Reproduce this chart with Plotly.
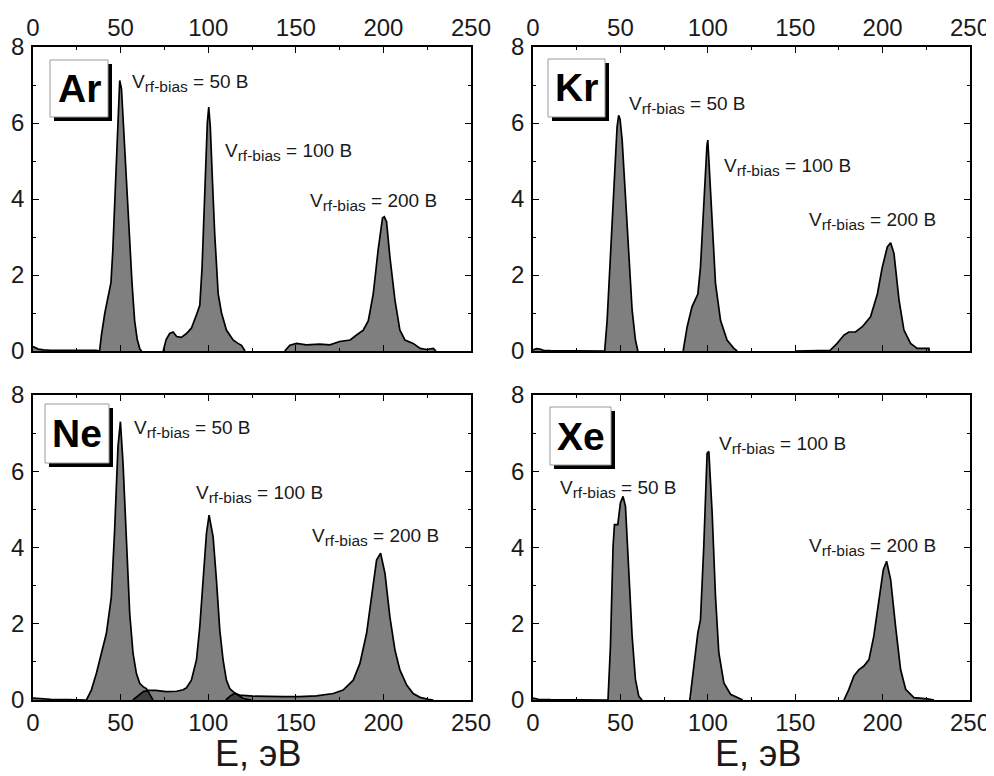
import plotly.graph_objects as go

# page body has an 8px margin; the figure is sized to fit the 994x776 window
OFF = 8
W, H = 994 - OFF, 776 - OFF

# ---------------- data (E in eV, intensity arb. units) ----------------
ar_e50 = [0, 1, 3, 6, 10, 20, 30, 36, 38, 39, 41, 43, 44.5, 45.5, 47, 48.5, 49.5, 50.5, 52, 53.5, 55, 56.5, 58, 59.5, 61, 62]
ar_v50 = [0.12, 0.1, 0.05, 0.03, 0.02, 0.02, 0.02, 0.02, 0.0, 0.4, 1.0, 1.5, 1.8, 2.6, 4.2, 6.0, 7.12, 6.9, 5.6, 4.3, 3.0, 1.8, 0.8, 0.3, 0.05, 0.0]
ar_e100 = [74.3, 76, 78, 80, 82, 84.7, 87.6, 90.4, 93.3, 95.2, 96.5, 98, 99.5, 100.3, 101.2, 102.5, 103.7, 105.7, 107.6, 110.4, 114.2, 117, 119, 121]
ar_v100 = [0.0, 0.3, 0.46, 0.5, 0.38, 0.36, 0.46, 0.6, 0.95, 1.2, 2.2, 4.2, 6.0, 6.42, 5.9, 4.4, 3.1, 1.5, 1.0, 0.55, 0.29, 0.2, 0.15, 0.0]
ar_e200 = [143.7, 146.6, 150.4, 156, 163.7, 169.5, 175, 181, 184.7, 188.5, 191.4, 194.2, 197, 199.5, 200.5, 201.8, 203.7, 206.6, 209.4, 212.3, 217, 221, 224.7, 228.5, 230]
ar_v200 = [0.0, 0.15, 0.2, 0.16, 0.18, 0.16, 0.25, 0.29, 0.42, 0.55, 0.8, 1.5, 2.66, 3.5, 3.53, 3.4, 2.48, 1.34, 0.55, 0.29, 0.2, 0.07, 0.04, 0.07, 0.0]

kr_e50 = [0, 2, 4, 6, 10, 30, 41, 42.4, 44.3, 46.2, 48.1, 49, 49.8, 51, 52.9, 54.8, 56.7, 58.6, 60]
kr_v50 = [0.03, 0.06, 0.05, 0.02, 0.01, 0.01, 0.0, 0.8, 2.4, 4.3, 5.9, 6.2, 6.1, 5.55, 3.97, 2.4, 1.08, 0.29, 0.0]
kr_e100 = [85.9, 88.2, 91, 94.3, 95.8, 97.7, 99.5, 100, 101.9, 104.4, 107.3, 111, 114.9, 116.8]
kr_v100 = [0.0, 0.64, 1.17, 1.5, 2.2, 3.97, 5.4, 5.55, 3.97, 1.78, 0.8, 0.29, 0.07, 0.0]
kr_e200 = [150, 160, 170, 174, 177.9, 180.7, 184.5, 188.4, 193.1, 197, 199.8, 202.7, 204.6, 206.5, 209.4, 212.2, 216, 219.8, 226.5, 226.6]
kr_v200 = [0.0, 0.01, 0.02, 0.2, 0.42, 0.5, 0.5, 0.64, 0.9, 1.5, 2.2, 2.74, 2.85, 2.57, 1.34, 0.55, 0.2, 0.07, 0.07, 0.0]

ne_e50 = [0, 5, 10, 20, 30.5, 33.3, 36.2, 39, 41.9, 44.7, 46.6, 48.5, 49.9, 51.4, 53.3, 55.2, 57.1, 59, 60.9, 62.8, 64.7, 66.5, 68.5]
ne_v50 = [0.05, 0.03, 0.02, 0.01, 0.0, 0.26, 0.7, 1.22, 1.75, 2.7, 4.46, 6.64, 7.3, 6.2, 4.0, 2.27, 1.22, 0.7, 0.44, 0.35, 0.3, 0.15, 0.0]
ne_e100 = [57, 60, 63, 66, 70, 76, 82, 85.7, 87.6, 90.4, 93.3, 95.2, 97.1, 99, 100.5, 102.8, 104.7, 106.6, 108.5, 110.4, 112.3, 114.2, 117, 120, 124.7]
ne_v100 = [0.0, 0.12, 0.22, 0.25, 0.25, 0.22, 0.23, 0.27, 0.32, 0.52, 1.05, 1.92, 3.15, 4.37, 4.85, 4.28, 3.15, 1.84, 1.05, 0.52, 0.3, 0.22, 0.13, 0.04, 0.0]
ne_e200 = [110, 113, 115.2, 118, 125.7, 133, 142.8, 152, 161.8, 171.4, 177, 182.8, 186.6, 190.4, 193.2, 196.1, 198.4, 200.9, 203.7, 206.6, 209.4, 213.3, 217, 220.9, 225.6, 228.5]
ne_v200 = [0.0, 0.12, 0.17, 0.13, 0.1, 0.09, 0.09, 0.09, 0.11, 0.17, 0.26, 0.52, 0.96, 1.75, 2.7, 3.67, 3.85, 3.32, 2.18, 1.31, 0.79, 0.39, 0.17, 0.07, 0.02, 0.0]

xe_e50 = [0, 3, 10, 42.9, 44.3, 45.8, 46.6, 48.5, 50, 51.5, 52.9, 54.8, 56.7, 58.6, 60.5, 62.4]
xe_v50 = [0.05, 0.02, 0.01, 0.0, 1.41, 4.03, 4.6, 4.6, 5.17, 5.34, 5.08, 3.5, 1.68, 0.54, 0.1, 0.0]
xe_e100 = [89.7, 92, 94.3, 95.8, 97.7, 99.6, 100.6, 102.5, 104.4, 106.3, 109.2, 113, 118.7, 120]
xe_v100 = [0.0, 0.89, 1.76, 2.1, 4.03, 6.47, 6.52, 4.9, 2.72, 1.24, 0.45, 0.15, 0.02, 0.0]
xe_e200 = [177.9, 180.7, 183.6, 186.5, 189.3, 192.2, 195, 197.9, 200.4, 202.3, 204.6, 207.4, 210.3, 213.2, 217.9, 225.6, 229.4]
xe_v200 = [0.0, 0.28, 0.63, 0.8, 0.89, 1.06, 1.68, 2.64, 3.42, 3.64, 3.16, 1.94, 0.8, 0.28, 0.06, 0.03, 0.0]

gases = ["Ar", "Kr", "Ne", "Xe"]
bias_labels = ["50 B", "100 B", "200 B"]
x_ticks = [0, 50, 100, 150, 200, 250]
y_ticks = [0, 2, 4, 6, 8]
x_title = "E, эВ"

# label positions (E, intensity) for the bias annotations in each panel
ar_lab_x, ar_lab_y = [55.4, 108.4, 157.0], [7.05, 5.25, 3.93]
kr_lab_x, kr_lab_y = [53.8, 108.1, 156.7], [6.47, 4.83, 3.41]
ne_lab_x, ne_lab_y = [56.5, 91.9, 158.1], [7.1, 5.4, 4.27]
xe_lab_x, xe_lab_y = [14.3, 105.3, 156.7], [5.53, 6.68, 4.01]

spectra = {
    "Ar": [(ar_e50, ar_v50), (ar_e100, ar_v100), (ar_e200, ar_v200)],
    "Kr": [(kr_e50, kr_v50), (kr_e100, kr_v100), (kr_e200, kr_v200)],
    "Ne": [(ne_e50, ne_v50), (ne_e100, ne_v100), (ne_e200, ne_v200)],
    "Xe": [(xe_e50, xe_v50), (xe_e100, xe_v100), (xe_e200, xe_v200)],
}
labels = {
    "Ar": (ar_lab_x, ar_lab_y), "Kr": (kr_lab_x, kr_lab_y),
    "Ne": (ne_lab_x, ne_lab_y), "Xe": (xe_lab_x, xe_lab_y),
}

# ---------------- layout geometry (window pixels) ----------------
FONT = "Liberation Sans, Arial, sans-serif"
TXT = "#1a1a1a"
px = lambda v: (v - OFF) / W
py = lambda v: 1 - (v - OFF) / H

# panel pixel boxes: left, right, top, bottom
panels = {
    "Ar": (33, 471, 47, 351),
    "Kr": (533, 970, 47, 351),
    "Ne": (33, 471, 395, 700),
    "Xe": (533, 970, 395, 700),
}
# gas name boxes: left, top, right, bottom
name_boxes = {
    "Ar": (50, 60, 108, 117),
    "Kr": (548, 59, 605, 117),
    "Ne": (45, 404, 109, 463),
    "Xe": (550, 407, 611, 465),
}

fig = go.Figure()
layout = dict(
    width=W, height=H, margin=dict(l=0, r=0, t=0, b=0, autoexpand=False),
    paper_bgcolor="white", plot_bgcolor="white", showlegend=False,
    font=dict(family=FONT, color=TXT),
)
annotations = []
shapes = []

for i, g in enumerate(gases):
    n = "" if i == 0 else str(i + 1)
    xa, ya = "x" + n, "y" + n
    l, r, t, b = panels[g]
    top = g in ("Ar", "Kr")
    axis_common = dict(
        showline=True, linecolor="black", linewidth=1.8, mirror="ticks",
        ticks="inside", ticklen=6, tickwidth=1.4, tickcolor="black",
        showgrid=False, zeroline=False, automargin=False,
        tickfont=dict(family=FONT, size=24, color=TXT),
    )
    layout["xaxis" + n] = dict(
        axis_common, domain=[px(l), px(r)], range=[0, 250],
        tickvals=x_ticks, side="top" if top else "bottom", anchor=ya,
        minor=dict(ticks="inside", ticklen=3, tickwidth=1.2, tickcolor="black", dtick=25),
    )
    layout["yaxis" + n] = dict(
        axis_common, domain=[py(b), py(t)], range=[0, 8],
        tickvals=y_ticks, anchor=xa, ticklabelstandoff=2,
        minor=dict(ticks="inside", ticklen=3, tickwidth=1.2, tickcolor="black", dtick=1),
    )
    for (e, v) in spectra[g]:
        fig.add_trace(go.Scatter(
            x=e, y=v, mode="lines", fill="tozeroy",
            fillcolor="rgba(0,0,0,0.5)",
            line=dict(color="black", width=1.7),
            xaxis=xa, yaxis=ya, hoverinfo="skip",
        ))
    lx, ly = labels[g]
    for k in range(3):
        annotations.append(dict(
            x=lx[k], y=ly[k], xref=xa, yref=ya, xanchor="left", yanchor="middle",
            showarrow=False,
            text="V<sub><span style='font-size:15.5px'>rf-bias</span></sub> = " + bias_labels[k],
            font=dict(family=FONT, size=19, color=TXT),
        ))
    # gas name box with shadow
    bl, bt, br, bb = name_boxes[g]
    shapes.append(dict(type="rect", xref="paper", yref="paper",
                       x0=px(bl + 4), x1=px(br + 4), y0=py(bb + 4), y1=py(bt + 4),
                       fillcolor="black", line=dict(width=0), layer="above"))
    shapes.append(dict(type="rect", xref="paper", yref="paper",
                       x0=px(bl), x1=px(br), y0=py(bb), y1=py(bt),
                       fillcolor="white", line=dict(color="#9a9a9a", width=1), layer="above"))
    annotations.append(dict(
        x=px((bl + br) / 2), y=py((bt + bb) / 2), xref="paper", yref="paper",
        xanchor="center", yanchor="middle", showarrow=False,
        text="<b>" + g + "</b>", font=dict(family=FONT, size=39, color="black"),
    ))
    if not top:
        annotations.append(dict(
            x=px((l + r) / 2 + 6), y=0, xref="paper", yref="paper",
            xanchor="center", yanchor="bottom", showarrow=False,
            text=x_title, font=dict(family=FONT, size=36, color=TXT),
        ))

layout["annotations"] = annotations
layout["shapes"] = shapes
fig.update_layout(**layout)
fig.write_html("out.html")
